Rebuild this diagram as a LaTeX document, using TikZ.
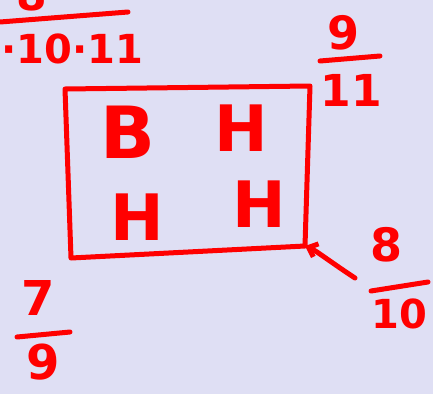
\documentclass[tikz,border=0pt]{standalone}
\usepackage{fontspec}
\setmainfont{DejaVu Sans}
\usetikzlibrary{arrows.meta}
\definecolor{bg}{HTML}{DFDFF4}
\definecolor{ink}{HTML}{FF0000}
\tikzset{
  pen/.style={draw=ink, line width=5pt, line cap=round, line join=round},
  hw/.style={text=ink, inner sep=0pt, font=\bfseries\fontsize{#1}{#1}\selectfont},
}
\begin{document}
\begin{tikzpicture}[x=1pt,y=-1pt]
\fill[bg] (0,0) rectangle (433,394);
\useasboundingbox (0,0) rectangle (433,394);
% box corners
\coordinate (tl) at (65,89);
\coordinate (tr) at (310,86);
\coordinate (br) at (305,246);
\coordinate (bl) at (71,258);
\draw[pen] (tl) -- (tr) -- (br) -- (bl) -- cycle;
% letters
\node[hw=72] (b) at (128,132) {B};
\node[hw=64] (h1) at (241,128) {H};
\node[hw=64] (h2) at (137,217) {H};
\node[hw=64] (h3) at (259,204) {H};
% top-left fraction (cut off at the top edge)
\node[hw=44] (tlnum) at (40,-6) {8·};
\draw[pen] (0,22) -- (128,12);
\node[hw=40] (tlden) at (72,49) {·10·11};
% top-right fraction
\node[hw=46] (trnum) at (343,33) {9};
\draw[pen] (320,61) -- (380,56);
\node[hw=44] (trden) at (351,90) {11};
% bottom-right fraction with arrow
\coordinate (tail) at (355,278);
\draw[pen, -{Straight Barb[length=8pt,width=14pt]}] (tail) .. controls (335,265) and (315,250) .. (br);
\node[hw=46] (brnum) at (386,245) {8};
\draw[pen] (371,291) -- (428,282);
\node[hw=40] (brden) at (399,314) {10};
% bottom-left fraction
\node[hw=48] (blnum) at (38,298) {7};
\draw[pen] (17,337) -- (70,332);
\node[hw=48] (blden) at (43,362) {9};
\end{tikzpicture}
\end{document}
